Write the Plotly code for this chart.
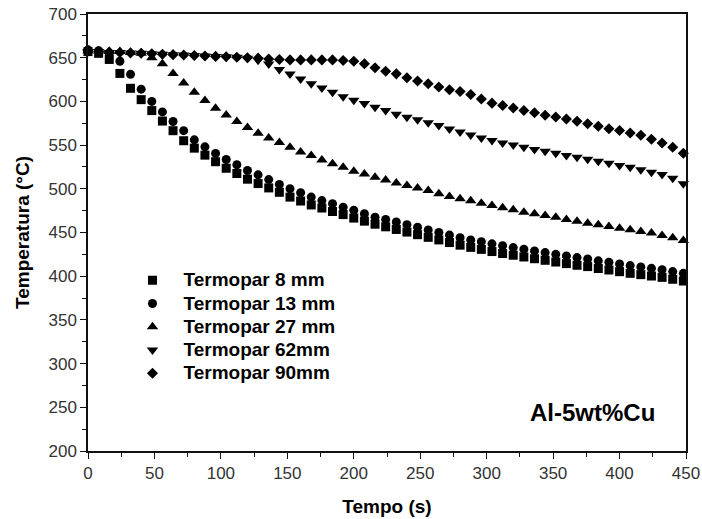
import plotly.graph_objects as go

tempo = [0, 8, 16, 24, 32, 40, 48, 56, 64, 72, 80, 88, 96, 104, 112, 120, 128, 136, 144, 152,
         160, 168, 176, 184, 192, 200, 208, 216, 224, 232, 240, 248, 256, 264, 272, 280, 288, 296,
         304, 312, 320, 328, 336, 344, 352, 360, 368, 376, 384, 392, 400, 408, 416, 424, 432, 440, 448]

t8mm = [657, 655, 648, 632, 615, 602, 589.5, 577.5, 566.5, 555, 546.5, 538.5, 531, 523.5, 517.5,
        511, 506, 501, 496, 490.5, 486, 481.5, 478, 474, 470.5, 466.5, 463, 459.5, 456.5, 453.5,
        450.5, 447.5, 444.5, 441.5, 438.5, 435.5, 433, 430.7, 428.2, 426, 424, 422, 420, 418.2,
        416.2, 414.4, 412.5, 411, 408.8, 407.1, 405.2, 403.3, 401.8, 400.2, 398.7, 396.5, 394.5]

t13mm = [659, 658, 655, 646, 631, 614, 600, 588, 577, 566.5, 556, 548, 540.5, 533.5, 527.5, 521,
         516, 510.5, 505, 500, 495.5, 490.5, 486.5, 483, 479, 475.5, 471.5, 467.5, 465, 462, 459,
         456, 453, 450, 447, 444, 441.5, 439.5, 437, 434.8, 432.7, 430.8, 428.9, 427, 425, 423.2,
         421.3, 419.7, 417.6, 415.9, 414, 412.1, 410.6, 409, 407.5, 405.3, 403.3]

t27mm = [658, 658, 657, 657, 656, 655, 650, 643, 632, 621, 610.5, 601, 592.3, 584.5, 577, 570,
         563.5, 558, 553, 547.5, 542, 538, 533, 528.6, 524.7, 520, 517, 513.3, 510, 506.5, 503.8,
         501, 498, 494.3, 491.2, 488.5, 486.3, 483.6, 481, 478.3, 476, 473.3, 471.4, 469.5, 467.4,
         465, 463, 460.7, 458.8, 456.9, 455, 453.1, 451.2, 449.3, 446.6, 444, 440.9]

t62mm = [657, 657, 656, 656, 655.5, 655, 654.5, 654, 653.5, 653, 652.5, 652, 651.5, 651, 650.5,
         649.5, 647, 642.9, 636.5, 631.4, 625.7, 620.3, 615.4, 610.4, 605.3, 601.3, 597.5, 593.3,
         589.5, 585.4, 581.8, 578.9, 575.5, 572.3, 568.5, 565, 561.5, 558.2, 555.2, 552.5, 550.2,
         547.6, 545, 543, 540.7, 538, 536.1, 533.9, 531.6, 529.3, 526.6, 524.7, 521.7, 519, 516.3,
         512.1, 505.7]

t90mm = [658, 657, 656.5, 656, 655.5, 655, 654.5, 654, 653.5, 653, 652.5, 652, 651.5, 651, 650.5,
         650, 649.5, 648.5, 648, 647.5, 647.5, 647.5, 647.5, 647.5, 646.8, 645.9, 643, 638.5, 634.6,
         631.5, 627, 623.3, 620.2, 616.4, 613.3, 611.4, 608, 602.8, 598, 595.3, 592.5, 589.6, 587,
         584.2, 582.2, 579.9, 577.3, 574.4, 571.6, 568.8, 566.7, 563.8, 561.2, 556.6, 552.4, 547.6,
         540.7]

series_names = ["Termopar 8 mm", "Termopar 13 mm", "Termopar 27 mm", "Termopar 62mm", "Termopar 90mm"]
series_values = [t8mm, t13mm, t27mm, t62mm, t90mm]
symbols = ["square", "circle", "triangle-up", "triangle-down", "diamond"]
sizes = [9, 9, 10, 10, 8.5]

FONT = "Liberation Sans, Arial, sans-serif"

fig = go.Figure()
for name, vals, sym, sz in zip(series_names, series_values, symbols, sizes):
    fig.add_trace(go.Scatter(
        x=tempo, y=vals, mode="markers",
        name='<span style="font-size:19px">' + name + '</span>',
        cliponaxis=False,
        marker=dict(symbol=sym, size=sz, color="black", line=dict(width=0)),
    ))

axis_common = dict(
    showgrid=False, zeroline=False, showline=True, linecolor="#111", linewidth=1.5,
    mirror=True, ticks="outside", ticklen=6, tickwidth=1.3, tickcolor="#111",
    tickfont=dict(family=FONT, size=17, color="#333"),
    minor=dict(ticks="outside", ticklen=4, tickwidth=1.3, tickcolor="#111", dtick=25),
)

fig.update_xaxes(range=[0, 450], dtick=50, tick0=0,
                 title=dict(text="Tempo (s)", font=dict(family=FONT, size=19, color="black", weight="bold"), standoff=18),
                 **axis_common)
fig.update_yaxes(range=[200, 700], dtick=50, tick0=200,
                 title=dict(text="Temperatura (°C)", font=dict(family=FONT, size=19, color="black", weight="bold"), standoff=14),
                 **axis_common)

fig.add_annotation(text="Al-5wt%Cu", xref="paper", yref="paper", x=0.843, y=0.087,
                   xanchor="center", yanchor="middle",
                   showarrow=False, font=dict(family=FONT, size=24, color="black", weight="bold"))

fig.update_layout(
    width=702, height=519,
    margin=dict(l=88, r=16, t=14, b=68, autoexpand=False),
    paper_bgcolor="white", plot_bgcolor="white",
    legend=dict(x=0.056, y=0.429, xanchor="left", yanchor="top", bgcolor="rgba(0,0,0,0)",
                itemwidth=52, font=dict(family=FONT, size=15.6, color="black", weight="bold"),
                tracegroupgap=0),
    showlegend=True,
)

fig.write_html("out.html", config={"displayModeBar": False},
               post_script="document.body.style.margin='0';")
